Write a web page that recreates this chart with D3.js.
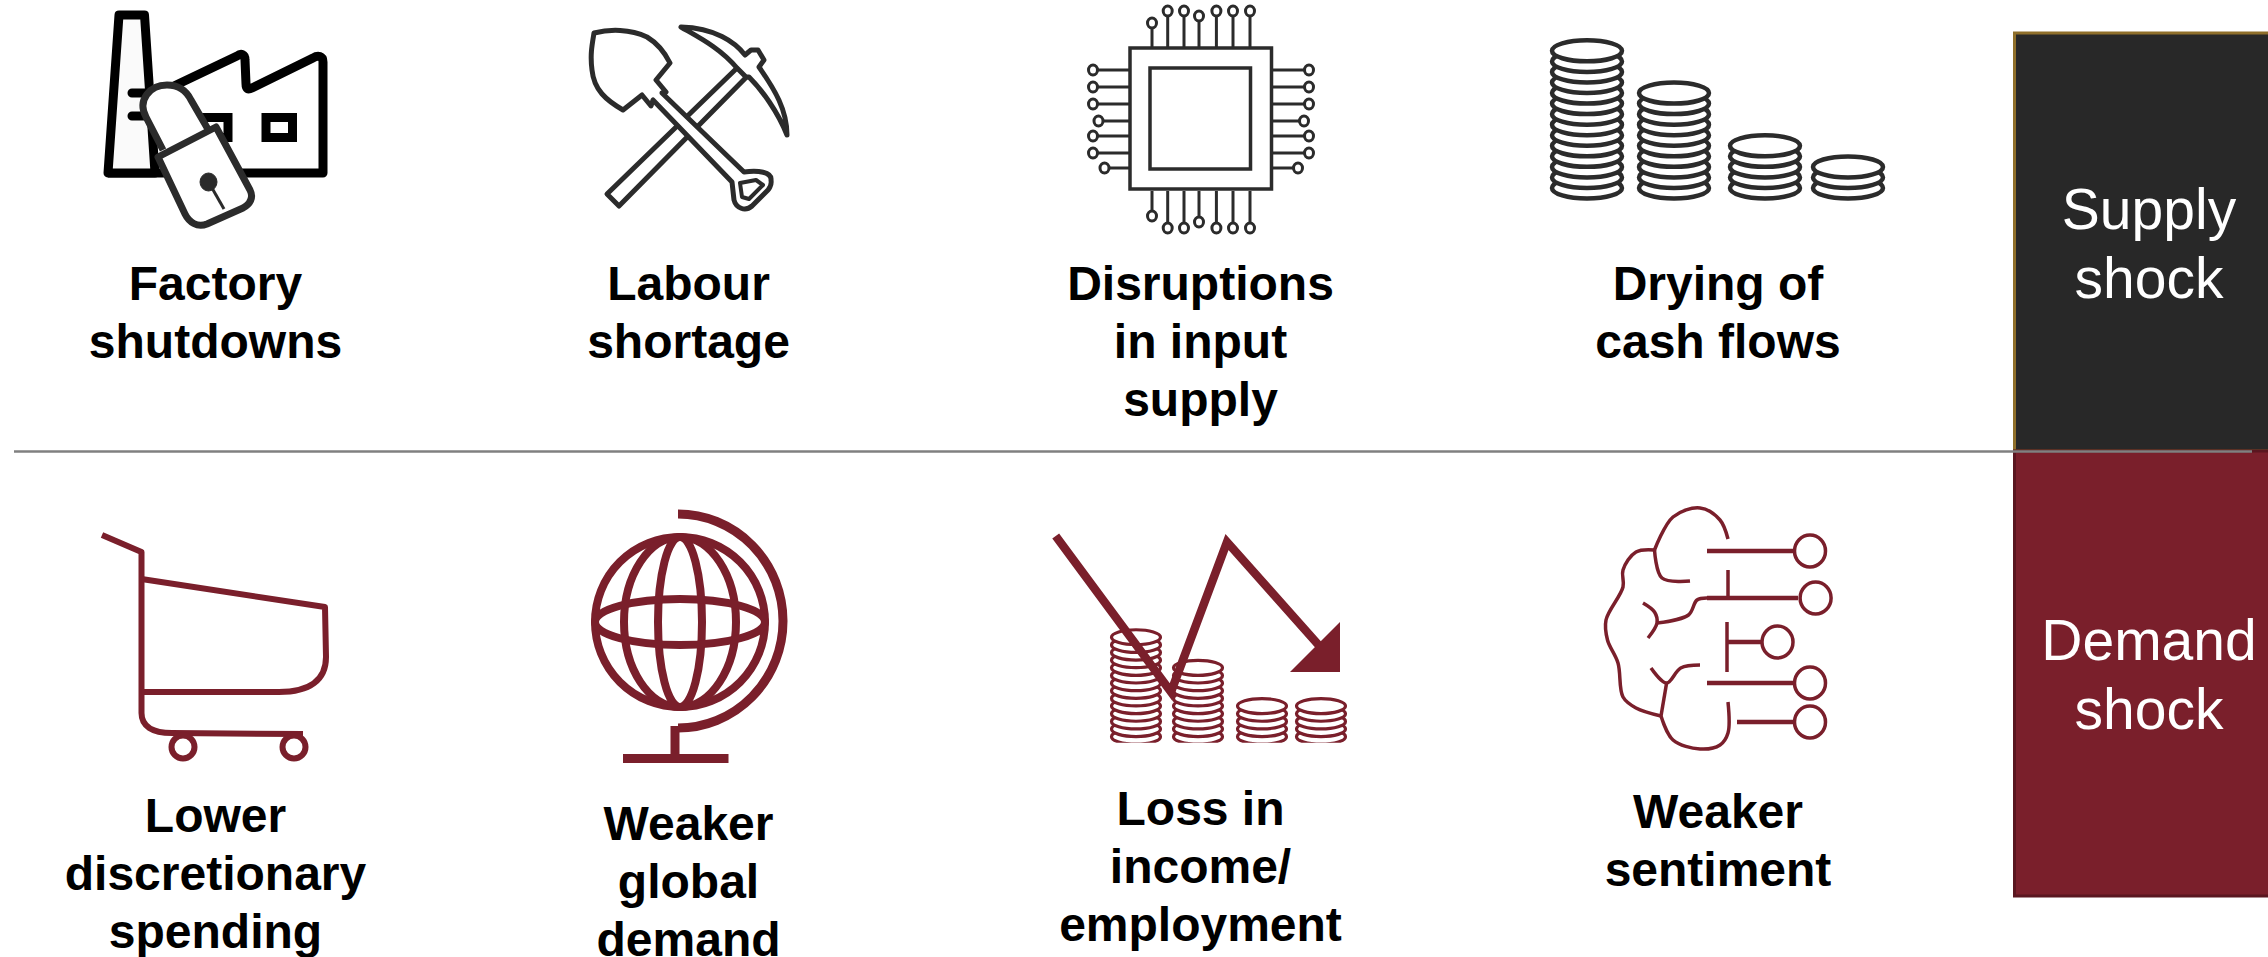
<!DOCTYPE html>
<html>
<head>
<meta charset="utf-8">
<title>Supply and demand shock</title>
<script src="https://d3js.org/d3.v7.min.js"></script>
<style>
    html, body { margin:0; padding:0; background:#fff; overflow:hidden; }
    svg { display:block; }
    text { font-family:"Liberation Sans", Arial, sans-serif; }
    .label { font-size:48px; font-weight:bold; fill:#000; text-anchor:middle; }
    .shock { font-size:57px; fill:#fff; text-anchor:middle; }
</style>
</head>
<body>
<svg id="chart" width="2268" height="957"></svg>
<script>
// text of the two rows
const supplyLabels = [["Factory", "shutdowns"], ["Labour", "shortage"], ["Disruptions", "in input", "supply"], ["Drying of", "cash flows"]];
const demandLabels = [["Lower", "discretionary", "spending"], ["Weaker", "global", "demand"], ["Loss in", "income/", "employment"], ["Weaker", "sentiment"]];
const shockLabels = [["Supply", "shock"], ["Demand", "shock"]];

// number of coins in each stack of the two coin icons
const cashCoins = [14, 10, 5, 3];
const incomeCoins = [14, 10, 5, 5];

const DARK = "#2b2b2b", RED = "#7a1f2b";

const svg = d3.select("#chart");
const columnX = d3.scaleOrdinal().domain([0, 1, 2, 3]).range([215.5, 688.5, 1200.5, 1718]);

const line = d3.line();
const smooth = d3.line().curve(d3.curveCatmullRom.alpha(0.5));

function stroke(g, d, color, w, fill) {
    return g.append("path").attr("d", d)
        .attr("fill", fill || "none")
        .attr("stroke", color)
        .attr("stroke-width", w)
        .attr("stroke-linejoin", "round");
}
function ring(g, cx, cy, rx, ry, color, w) {
    return g.append("ellipse")
        .attr("cx", cx).attr("cy", cy).attr("rx", rx).attr("ry", ry)
        .attr("fill", "#fff").attr("stroke", color).attr("stroke-width", w);
}

// ---- panels on the right and the divider
const panelY = d3.scaleOrdinal().domain([0, 1]).range([33, 451]);
const panelH = d3.scaleOrdinal().domain([0, 1]).range([418, 445]);
const panelFill = ["#282828", RED], panelEdge = ["#8f6f2a", "#5a1620"];
const baseY = [[229, 297.5], [660, 729]];

shockLabels.forEach((lines, i) => {
    svg.append("rect").attr("x", 2014.5).attr("y", panelY(i)).attr("width", 260).attr("height", panelH(i))
        .attr("fill", panelFill[i]).attr("stroke", panelEdge[i]).attr("stroke-width", 3);
    lines.forEach((t, j) => {
        svg.append("text").attr("class", "shock").attr("x", 2149).attr("y", baseY[i][j]).text(t);
    });
});
svg.append("line").attr("x1", 14).attr("x2", 2252).attr("y1", 451.5).attr("y2", 451.5)
    .attr("stroke", "#808080").attr("stroke-width", 2.5);

// ---- labels
const supplyBase = [300, 300, 300, 300], demandBase = [832, 839.5, 825, 828];
function drawLabels(labels, base) {
    labels.forEach((lines, i) => {
        lines.forEach((t, j) => {
            svg.append("text").attr("class", "label")
                .attr("x", columnX(i)).attr("y", base[i] + j * 58).text(t);
        });
    });
}
drawLabels(supplyLabels, supplyBase);
drawLabels(demandLabels, demandBase);

// ---- factory with padlock
const factory = svg.append("g");
stroke(factory, "M108 173 L323 173 L323 62 C323 56 318 55 313 58 L252 88 C248 90 246 89 246 84 L245 60 C245 54 241 53 237 56 L174 86", "#000", 9);
stroke(factory, line([[119, 15], [108, 173], [155, 173], [144.5, 15]]) + "Z", "#000", 9, "#fafafa");
factory.append("path").attr("d", line([[132, 93], [150, 93]]) + line([[132, 116], [150, 116]]))
    .attr("stroke", "#000").attr("stroke-width", 9).attr("stroke-linecap", "round");
[[201.5, 117.5], [266, 117.5]].forEach(p => {
    factory.append("rect").attr("x", p[0]).attr("y", p[1]).attr("width", 26.5).attr("height", 20)
        .attr("fill", "#fff").attr("stroke", "#000").attr("stroke-width", 9);
});
// shackle, then body on top
stroke(factory, "M163 150 L146 117 C137 100 150 85 167 85 C180 85 187 92 191 100 L209 131", DARK, 7, "#fff");
stroke(factory, "M158 157 L216 127 L250 190 C254 198 250 204 243 208 L207 224 C197 228 189 222 185 214 Z", DARK, 7, "#fff");
ring(factory, 208.5, 182, 8.5, 9, DARK, 1).attr("fill", DARK);
stroke(factory, line([[212, 188], [224, 209]]), DARK, 3);

// ---- pick and shovel
const tools = svg.append("g");
stroke(tools, line([[737, 68], [607, 194], [619, 206], [746.5, 77]]), DARK, 5, "#fff");
stroke(tools, "M681 27 C715 28 735 42 745 55 L751 50 L758 50 L764 60 L759 67 C775 90 787 110 787 135 C778 112 762 90 749 77 L746 77 L737 68 C720 48 700 38 681 27 Z", DARK, 5, "#fff");
stroke(tools, "M594 33 C610 29 630 29 647 37 C657 43 665 53 670 63 L656 80 L666 92 L662 93 L744 172 C758 170 772 172 771 180 C772 186 768 190 768 190 L752 206 C745 212 736 208 734 200 L732 182 L653 100 L651 106 L642 95 L623 110 C606 100 594 90 592 70 C590 55 592 45 594 33 Z", DARK, 5, "#fff");
stroke(tools, "M740 183 L756 180 L763 185 L749 199 L742 197 Z", DARK, 4);

// ---- chip
const chip = svg.append("g");
const pinX = [1152, 1167.7, 1184, 1199, 1216.4, 1233, 1250];
const pinTop = [23, 11, 11, 16, 11, 11, 11], pinBottom = [216, 228, 228, 222, 228, 228, 228];
const pinY = [70, 87, 104, 121, 136, 153, 168];
const pinLeft = [1093, 1093, 1093, 1098.5, 1093, 1093, 1104.5], pinRight = [1309, 1309, 1309, 1304, 1309, 1309, 1298];
function pin(x1, y1, x2, y2) {
    stroke(chip, line([[x1, y1], [x2, y2]]), DARK, 3);
    ring(chip, x2, y2, 4.5, 5, DARK, 3);
}
pinX.forEach((x, i) => { pin(x, 47, x, pinTop[i]); pin(x, 191, x, pinBottom[i]); });
pinY.forEach((y, i) => { pin(1129, y, pinLeft[i], y); pin(1273, y, pinRight[i], y); });
chip.append("rect").attr("x", 1130).attr("y", 48).attr("width", 141.5).attr("height", 141)
    .attr("fill", "#fff").attr("stroke", DARK).attr("stroke-width", 3.5);
chip.append("rect").attr("x", 1150).attr("y", 68).attr("width", 100.5).attr("height", 101)
    .attr("fill", "#fff").attr("stroke", DARK).attr("stroke-width", 3.5);

// ---- coin stacks, bottom coin first so upper coins cover the ones below
function coinStacks(g, counts, centers, bottom, step, rx, ry, color, w) {
    const y = d3.scaleLinear().domain([0, 1]).range([bottom, bottom - step]);
    counts.forEach((n, s) => {
        d3.range(n).forEach(k => ring(g, centers[s], y(k), rx, ry, color, w));
    });
}
coinStacks(svg.append("g"), cashCoins, [1587, 1674, 1765, 1848], 188, 10.55, 35, 10.5, DARK, 4.5);

// ---- cart
const cart = svg.append("g");
stroke(cart, "M102 535 L141.5 552 L141.5 713 C141.5 726 152 733 172 733 L303 734", RED, 6);
stroke(cart, "M141.5 579 L325 607 L326 657 C326 680 310 692 279 692 L141.5 692", RED, 6);
ring(cart, 183, 747, 11.5, 11.5, RED, 6);
ring(cart, 294, 747, 11.5, 11.5, RED, 6);

// ---- globe
const globe = svg.append("g").attr("fill", "none").attr("stroke", RED).attr("stroke-width", 8);
[[85, 85], [56, 85], [22, 85], [85, 23]].forEach(r => {
    globe.append("ellipse").attr("cx", 680).attr("cy", 622).attr("rx", r[0]).attr("ry", r[1]);
});
stroke(globe, "M678 514 A105 107 0 0 1 678 728", RED, 9);
stroke(globe, line([[675, 726], [675, 757]]), RED, 9);
globe.append("rect").attr("x", 623).attr("y", 754).attr("width", 105.5).attr("height", 9)
    .attr("fill", RED).attr("stroke", "none");

// ---- income: coins with falling arrow
svg.append("clipPath").attr("id", "coinClip").append("rect")
    .attr("x", 1090).attr("y", 600).attr("width", 280).attr("height", 142.7);
coinStacks(svg.append("g").attr("clip-path", "url(#coinClip)"), incomeCoins,
    [1136, 1198, 1262, 1321], 736.7, 7.65, 24.5, 7.5, RED, 3.2);
const fall = svg.append("g");
stroke(fall, line([[1055.7, 536], [1171, 692], [1227, 542], [1323, 650]]), RED, 8.5).attr("stroke-linejoin", "miter");
fall.append("path").attr("d", line([[1340, 622], [1340, 672], [1290, 672]]) + "Z").attr("fill", RED);

// ---- brain
const brain = svg.append("g");
[
    [[1728, 539], [1720, 520], [1700, 508], [1673, 517], [1654.5, 550]],
    [[1654.5, 550], [1636, 552], [1623, 570], [1623, 587], [1606, 620], [1607.5, 640], [1618, 663], [1623, 697], [1636, 708], [1661, 716]],
    [[1661, 716], [1673, 740], [1700, 749], [1720, 745], [1728, 733], [1728, 702]],
    [[1654.5, 550], [1662, 578], [1690, 581]],
    [[1707, 598], [1697, 600], [1688.5, 615], [1657, 623]],
    [[1643, 603], [1654.5, 612], [1657, 623], [1648, 638]],
    [[1651, 668], [1666.6, 683], [1680.7, 668], [1700, 665]],
    [[1666.6, 683], [1661, 716]]
].forEach(p => stroke(brain, smooth(p), RED, 3.5));
stroke(brain, line([[1728, 570], [1728, 598]]), RED, 3.5);
stroke(brain, line([[1727, 622], [1727, 672]]), RED, 3.5);
[[1707, 1798, 598, 1815.6], [1707, 1793, 551, 1810], [1707, 1793, 683, 1810], [1737, 1793, 722, 1810], [1727, 1762, 642, 1777.5]].forEach(r => {
    stroke(brain, line([[r[0], r[2]], [r[1], r[2]]]), RED, 4.5);
    ring(brain, r[3], r[2], 15.5, 16, RED, 3.5);
});
</script>
</body>
</html>
